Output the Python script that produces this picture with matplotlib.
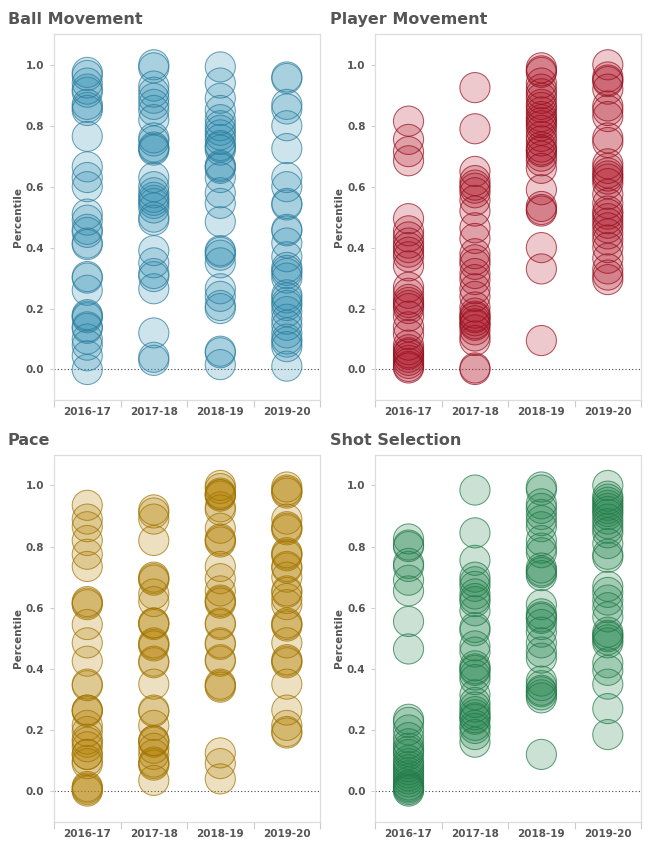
import matplotlib

matplotlib.use("Agg")

import matplotlib.pyplot as plt

SEASONS = ["2016-17", "2017-18", "2018-19", "2019-20"]

BALL_MOVEMENT = [
    [0.975, 0.965, 0.94, 0.92, 0.91, 0.87, 0.86, 0.85, 0.765, 0.665, 0.63, 0.60, 0.51, 0.49, 0.46,
     0.45, 0.415, 0.41, 0.305, 0.30, 0.26, 0.18, 0.175, 0.17, 0.14, 0.135, 0.10, 0.08, 0.045, 0.0],
    [1.0, 0.99, 0.93, 0.91, 0.89, 0.87, 0.85, 0.82, 0.76, 0.75, 0.73, 0.725, 0.72, 0.63, 0.60,
     0.58, 0.565, 0.555, 0.545, 0.53, 0.50, 0.49, 0.39, 0.35, 0.315, 0.305, 0.265, 0.12, 0.04, 0.03],
    [0.993, 0.94, 0.89, 0.85, 0.82, 0.80, 0.785, 0.77, 0.755, 0.735, 0.73, 0.72, 0.67, 0.665, 0.66,
     0.63, 0.58, 0.545, 0.485, 0.39, 0.385, 0.375, 0.35, 0.265, 0.24, 0.21, 0.20, 0.06, 0.055, 0.016],
    [0.96, 0.955, 0.87, 0.855, 0.80, 0.725, 0.63, 0.60, 0.545, 0.54, 0.46, 0.455, 0.415, 0.37, 0.335,
     0.325, 0.315, 0.30, 0.245, 0.235, 0.22, 0.21, 0.19, 0.165, 0.145, 0.12, 0.10, 0.09, 0.075, 0.011],
]

PLAYER_MOVEMENT = [
    [0.815, 0.755, 0.715, 0.685, 0.495, 0.455, 0.435, 0.415, 0.40, 0.385, 0.37, 0.34, 0.27, 0.25, 0.23,
     0.22, 0.21, 0.20, 0.175, 0.14, 0.115, 0.08, 0.065, 0.055, 0.05, 0.04, 0.03, 0.02, 0.01, 0.005],
    [0.925, 0.79, 0.65, 0.62, 0.605, 0.595, 0.58, 0.555, 0.52, 0.465, 0.43, 0.38, 0.36, 0.345, 0.315,
     0.295, 0.265, 0.24, 0.205, 0.185, 0.175, 0.17, 0.16, 0.15, 0.145, 0.13, 0.11, 0.095, 0.005, 0.0],
    [0.99, 0.98, 0.975, 0.94, 0.92, 0.905, 0.89, 0.87, 0.86, 0.845, 0.83, 0.82, 0.81, 0.80, 0.785,
     0.765, 0.75, 0.73, 0.72, 0.715, 0.70, 0.685, 0.66, 0.59, 0.535, 0.525, 0.52, 0.40, 0.33, 0.095],
    [1.0, 0.96, 0.95, 0.945, 0.92, 0.865, 0.85, 0.83, 0.76, 0.745, 0.675, 0.66, 0.645, 0.635, 0.625,
     0.61, 0.575, 0.545, 0.52, 0.51, 0.495, 0.48, 0.465, 0.445, 0.425, 0.40, 0.365, 0.33, 0.31, 0.295],
]

PACE = [
    [0.935, 0.89, 0.865, 0.82, 0.775, 0.735, 0.62, 0.615, 0.61, 0.545, 0.485, 0.425, 0.35, 0.345, 0.265,
     0.265, 0.26, 0.215, 0.195, 0.17, 0.16, 0.145, 0.12, 0.12, 0.10, 0.09, 0.015, 0.01, 0.005, 0.0],
    [0.92, 0.91, 0.89, 0.82, 0.70, 0.695, 0.69, 0.645, 0.62, 0.55, 0.545, 0.55, 0.485, 0.48, 0.475,
     0.425, 0.42, 0.35, 0.265, 0.26, 0.215, 0.165, 0.165, 0.16, 0.14, 0.12, 0.095, 0.09, 0.085, 0.035],
    [1.0, 0.99, 0.975, 0.97, 0.97, 0.965, 0.93, 0.92, 0.86, 0.825, 0.82, 0.815, 0.735, 0.695, 0.655,
     0.625, 0.62, 0.615, 0.545, 0.55, 0.485, 0.48, 0.43, 0.425, 0.35, 0.345, 0.34, 0.125, 0.09, 0.04],
    [0.995, 0.985, 0.975, 0.98, 0.89, 0.865, 0.86, 0.855, 0.78, 0.775, 0.77, 0.735, 0.73, 0.70, 0.655,
     0.65, 0.63, 0.61, 0.55, 0.545, 0.54, 0.485, 0.43, 0.425, 0.42, 0.35, 0.265, 0.215, 0.195, 0.19],
]

SHOT_SELECTION = [
    [0.825, 0.805, 0.80, 0.745, 0.735, 0.69, 0.655, 0.555, 0.465, 0.235, 0.225, 0.20, 0.175, 0.155, 0.14,
     0.13, 0.12, 0.10, 0.09, 0.08, 0.07, 0.06, 0.05, 0.04, 0.03, 0.02, 0.015, 0.01, 0.005, 0.0],
    [0.985, 0.845, 0.755, 0.70, 0.685, 0.67, 0.645, 0.63, 0.62, 0.59, 0.535, 0.525, 0.475, 0.455, 0.41,
     0.40, 0.395, 0.38, 0.365, 0.315, 0.29, 0.275, 0.26, 0.25, 0.24, 0.235, 0.215, 0.205, 0.185, 0.16],
    [0.995, 0.985, 0.94, 0.925, 0.905, 0.885, 0.865, 0.82, 0.795, 0.78, 0.73, 0.72, 0.715, 0.705, 0.61,
     0.58, 0.57, 0.565, 0.545, 0.52, 0.485, 0.455, 0.435, 0.36, 0.345, 0.33, 0.325, 0.315, 0.305, 0.12],
    [1.0, 0.965, 0.955, 0.945, 0.935, 0.925, 0.915, 0.905, 0.89, 0.875, 0.86, 0.845, 0.81, 0.775, 0.765,
     0.67, 0.65, 0.625, 0.60, 0.57, 0.52, 0.51, 0.505, 0.495, 0.485, 0.42, 0.395, 0.35, 0.27, 0.185],
]

PANELS = [
    ("Ball Movement", BALL_MOVEMENT, "#3c96b9", "#2b7c9c", [0.0832, 0.5289, 0.41, 0.4307]),
    ("Player Movement", PLAYER_MOVEMENT, "#b8283a", "#96101e", [0.5783, 0.5289, 0.4094, 0.4307]),
    ("Pace", PACE, "#b8860b", "#a07400", [0.0832, 0.0322, 0.41, 0.432]),
    ("Shot Selection", SHOT_SELECTION, "#2e8b57", "#237a48", [0.5783, 0.0322, 0.4094, 0.432]),
]

TEXT_COLOR = "#555555"


def draw_panel(fig, title, data, color, edge, rect):
    ax = fig.add_axes(rect)
    for i, values in enumerate(data):
        ax.scatter(
            [i] * len(values),
            values,
            s=470,
            facecolor=color,
            edgecolor="none",
            alpha=0.25,
            zorder=2,
        )
        ax.scatter(
            [i] * len(values),
            values,
            s=470,
            facecolor="none",
            edgecolor=edge,
            linewidths=0.75,
            alpha=0.7,
            zorder=3,
        )
    ax.axhline(0, color="#444444", linestyle=(0, (1, 2)), linewidth=0.8, zorder=1)
    ax.set_xlim(-0.5, 3.5)
    ax.set_ylim(-0.1, 1.1)
    ax.set_xticks(range(len(SEASONS)))
    ax.set_xticklabels(SEASONS, fontsize=7.5, fontweight="bold", color=TEXT_COLOR)
    ax.set_xticks([-0.5, 0.5, 1.5, 2.5, 3.5], minor=True)
    ax.tick_params(axis="x", which="major", length=0, pad=5)
    ax.tick_params(axis="x", which="minor", length=5, color="#cccccc", width=0.8)
    ax.set_yticks([0.0, 0.2, 0.4, 0.6, 0.8, 1.0])
    ax.set_yticklabels(
        ["0.0", "0.2", "0.4", "0.6", "0.8", "1.0"],
        fontsize=7.5,
        fontweight="bold",
        color=TEXT_COLOR,
    )
    ax.tick_params(axis="y", length=3, color="#cccccc", width=0.8, pad=4)
    ax.set_ylabel("Percentile", fontsize=7.5, fontweight="bold", color=TEXT_COLOR, labelpad=2)
    for spine in ax.spines.values():
        spine.set_color("#dddddd")
        spine.set_linewidth(0.9)
    x0 = rect[0] - 0.071 if rect[0] < 0.5 else rect[0] - 0.07
    fig.text(
        x0,
        rect[1] + rect[3] + 0.0175,
        title,
        fontsize=11.5,
        fontweight="bold",
        color=TEXT_COLOR,
        va="center",
        ha="left",
    )
    return ax


def main() -> None:
    fig = plt.figure(figsize=(6.49, 8.49), dpi=100)
    for title, data, color, edge, rect in PANELS:
        draw_panel(fig, title, data, color, edge, rect)
    fig.savefig("out.png", dpi=100)
    plt.close(fig)


if __name__ == "__main__":
    main()
